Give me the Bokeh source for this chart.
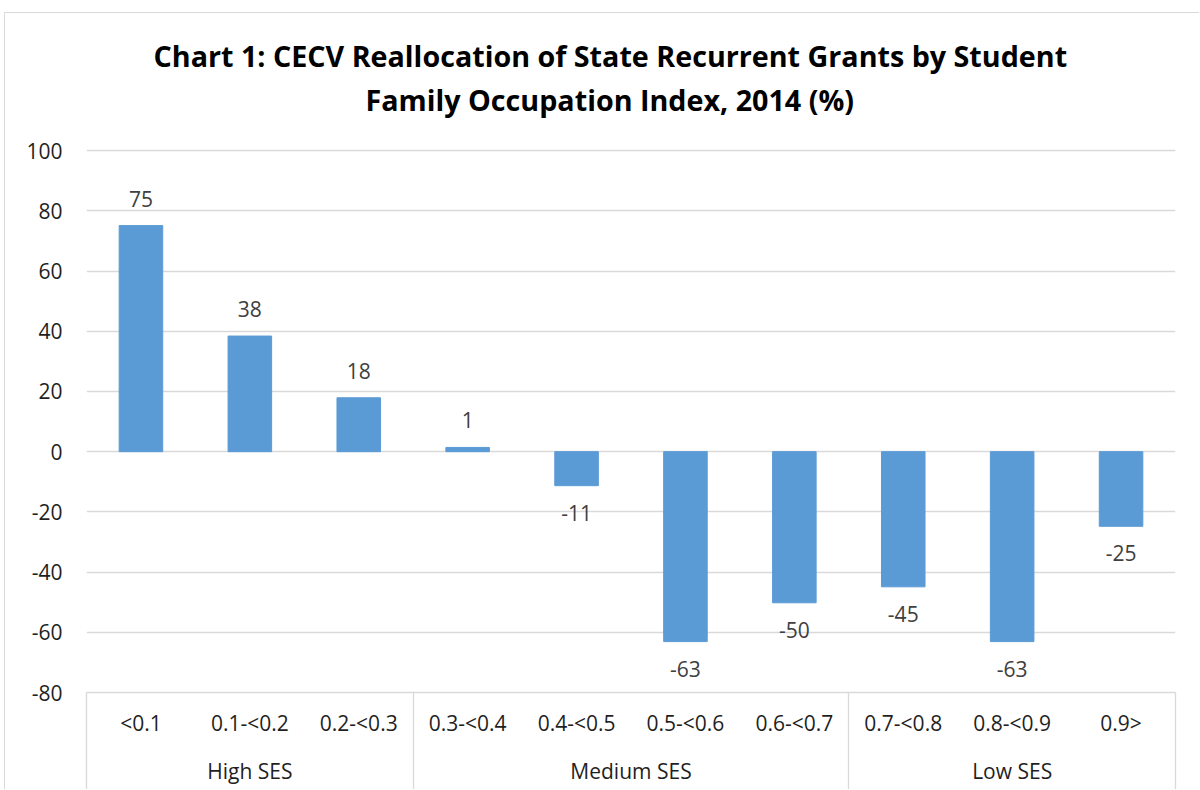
from bokeh.plotting import figure
from bokeh.models import Range1d, LinearAxis, FixedTicker, Title, ColumnDataSource
from bokeh.core.properties import value
from bokeh.embed import file_html
from bokeh.resources import INLINE

# ---- data ----
title_lines = ["Chart 1: CECV Reallocation of State Recurrent Grants by Student",
               "Family Occupation Index, 2014 (%)"]
categories = ["<0.1", "0.1-<0.2", "0.2-<0.3", "0.3-<0.4", "0.4-<0.5",
              "0.5-<0.6", "0.6-<0.7", "0.7-<0.8", "0.8-<0.9", "0.9>"]
values = [75.1, 38.4, 17.9, 1.4, -11.3, -63.1, -50.2, -44.9, -63.1, -24.8]
groups = ["High SES", "Medium SES", "Low SES"]
group_sizes = [3, 4, 3]
y_ticks = [-80, -60, -40, -20, 0, 20, 40, 60, 80, 100]

FONT = "Open Sans"
BAR = "#5b9bd5"
GRID = "#d9d9d9"
TXT = "#1f1f1f"
LBL = "#404040"

n = len(categories)
xs = [i + 0.5 for i in range(n)]
bounds = [0]
for s in group_sizes:
    bounds.append(bounds[-1] + s)
group_centers = [(bounds[i] + bounds[i + 1]) / 2 for i in range(len(groups))]

src = ColumnDataSource(dict(
    x=xs, v=values,
    label=[str(int(round(v))) for v in values],
    yoff=[-27 if v >= 0 else 27 for v in values],
))

# headroom above the top gridline (keeps the title close to the plot)
y_head = 10

p = figure(width=1195, height=777,
           x_range=Range1d(0, n), y_range=Range1d(y_ticks[0], y_ticks[-1] + y_head),
           output_backend="svg", toolbar_location=None,
           x_axis_location=None,
           min_border_left=81, min_border_right=25,
           min_border_top=107, min_border_bottom=98)
p.outline_line_color = None
p.styles = {"margin-left": "4px", "margin-top": "12px",
            "border-top": "1px solid #d9d9d9", "border-left": "1px solid #d9d9d9"}

p.xgrid.visible = False
p.ygrid.ticker = FixedTicker(ticks=y_ticks)
p.ygrid.grid_line_color = GRID
p.ygrid.grid_line_width = 1.3

yax = p.yaxis[0]
yax.ticker = FixedTicker(ticks=y_ticks)
yax.major_label_overrides = {t: str(t) for t in y_ticks}
yax.axis_line_color = None
yax.major_tick_line_color = None
yax.minor_tick_line_color = None
yax.major_label_standoff = 18
yax.major_label_text_font = FONT
yax.major_label_text_font_size = "21px"
yax.major_label_text_color = TXT

p.vbar(x="x", top="v", bottom=0, width=0.4, source=src,
       fill_color=BAR, line_color=BAR)
p.text(x="x", y="v", text="label", source=src, y_offset="yoff",
       text_align="center", text_baseline="middle",
       text_font=value(FONT), text_font_size="21px", text_color=LBL)

# category axis; its long minor ticks draw the group separators
SEP = 120
axA = LinearAxis(ticker=FixedTicker(ticks=xs, minor_ticks=bounds),
                 major_label_overrides={x: c for x, c in zip(xs, categories)})
axA.major_tick_out = 0
axA.major_tick_in = 0
axA.minor_tick_in = 0
axA.minor_tick_out = SEP
axA.minor_tick_line_color = GRID
axA.minor_tick_line_width = 1.3
axA.axis_line_color = GRID
axA.axis_line_width = 1.3
axA.major_label_standoff = 16 - SEP
axA.major_label_text_font = FONT
axA.major_label_text_font_size = "21px"
axA.major_label_text_color = TXT
p.add_layout(axA, "below")

axB = LinearAxis(ticker=FixedTicker(ticks=group_centers),
                 major_label_overrides={float(x): g for x, g in zip(group_centers, groups)})
axB.major_tick_out = 0
axB.major_tick_in = 0
axB.minor_tick_in = 0
axB.minor_tick_out = 0
axB.axis_line_color = None
axB.major_label_standoff = 17
axB.major_label_text_font = FONT
axB.major_label_text_font_size = "21px"
axB.major_label_text_color = TXT
p.add_layout(axB, "below")

title_offsets = [67, 279]
title_standoffs = [2, 4]
for line, off, so in reversed(list(zip(title_lines, title_offsets, title_standoffs))):
    t = Title(text=line, align="left", text_font=FONT, text_font_size="28.7px",
              text_font_style="bold", text_color="#000000", standoff=so, offset=off)
    p.add_layout(t, "above")

open("out.html", "w").write(file_html(p, INLINE))
